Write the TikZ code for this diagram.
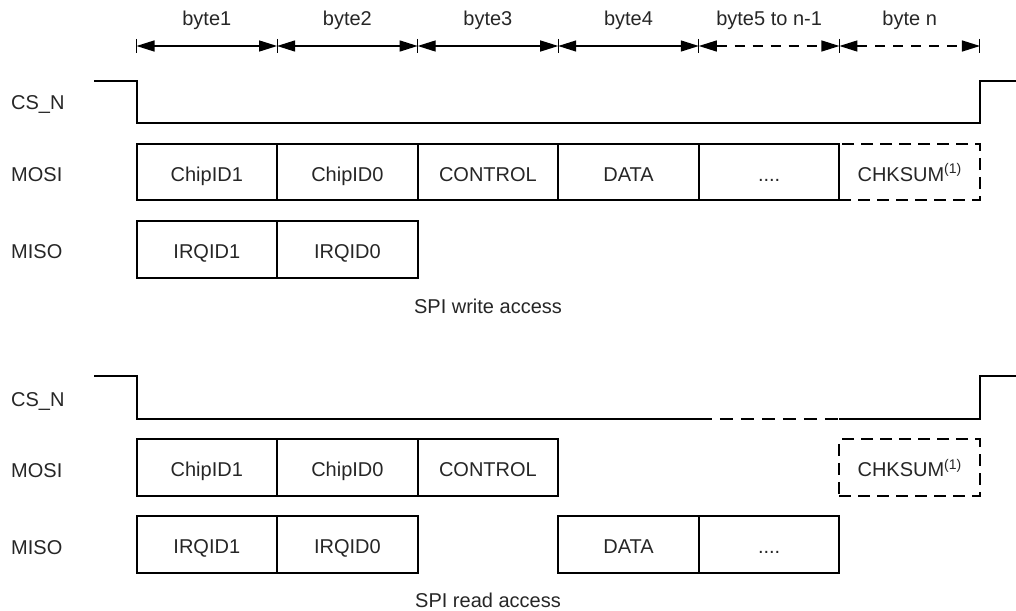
\documentclass[tikz,border=0pt]{standalone}
\usepackage{fontspec}
\setmainfont{Liberation Sans}
\usetikzlibrary{arrows.meta}
\begin{document}
\begin{tikzpicture}[x=1pt,y=-1pt,
  txt/.style={text=black!85, font=\fontsize{20}{22}\selectfont, inner sep=0pt},
  box/.style={draw=black, line width=2pt, minimum width=140.58pt, minimum height=56.5pt,
              text height=18.5pt, text depth=0pt, inner sep=0pt, txt},
  dbox/.style={box, dash pattern=on 12pt off 7pt},
  sig/.style={line width=2pt, line join=miter},
  dsig/.style={line width=2pt, dash pattern=on 13pt off 8pt},
  dim/.style={line width=1.3pt, {Triangle[length=18pt,width=11pt]}-{Triangle[length=18pt,width=11pt]}},
  ddim/.style={dim, dash pattern=on 10pt off 8pt},
  tickmark/.style={line width=1pt},
  lab/.style={txt, anchor=base west},
  ttl/.style={txt, anchor=base}]
\useasboundingbox (0,0) rectangle (1016,610);

% ---- byte ruler ----
\foreach \i/\x in {0/136.5,1/277.08,2/417.66,3/558.24,4/698.82,5/839.4,6/979.98}{
  \coordinate (t\i) at (\x,46);
  \draw[tickmark] ([yshift=7pt]t\i) -- ([yshift=-7pt]t\i);
}
\draw[dim] (t0) -- (t1);
\draw[dim] (t1) -- (t2);
\draw[dim] (t2) -- (t3);
\draw[dim] (t3) -- (t4);
\draw[ddim] (t4) -- (t5);
\draw[ddim] (t5) -- (t6);
\node[ttl] (b1) at (206.8,26) {byte1};
\node[ttl] (b2) at (347.4,26) {byte2};
\node[ttl] (b3) at (487.9,26) {byte3};
\node[ttl] (b4) at (628.5,26) {byte4};
\node[ttl] (b5) at (769.1,26) {byte5 to n-1};
\node[ttl] (b6) at (909.7,26) {byte n};

% ---- SPI write access ----
\node[lab] (wcsl) at (11,109) {CS\_N};
\node[lab] (wmosil) at (11,181) {MOSI};
\node[lab] (wmisol) at (11,258.5) {MISO};

\coordinate (wc0) at (94,80.7);
\coordinate (wc1) at (136.5,80.7);
\coordinate (wc2) at (136.5,123.3);
\coordinate (wc3) at (979.98,123.3);
\coordinate (wc4) at (979.98,80.7);
\coordinate (wc5) at (1016,80.7);
\draw[sig] (wc0) -- (wc1) -- (wc2) -- (wc3) -- (wc4) -- (wc5);

\node[box] (wm1) at (206.8,171.75) {ChipID1};
\node[box] (wm2) at (347.4,171.75) {ChipID0};
\node[box] (wm3) at (487.9,171.75) {CONTROL};
\node[box] (wm4) at (628.5,171.75) {DATA};
\node[box] (wm5) at (769.1,171.75) {....};
\node[dbox] (wm6) at (909.7,171.75) {CHKSUM\textsuperscript{(1)}};

\node[box] (wi1) at (206.8,249.5) {IRQID1};
\node[box] (wi2) at (347.4,249.5) {IRQID0};

\node[ttl] (wttl) at (488,313) {SPI write access};

% ---- SPI read access ----
\node[lab] (rcsl) at (11,406) {CS\_N};
\node[lab] (rmosil) at (11,477.5) {MOSI};
\node[lab] (rmisol) at (11,554) {MISO};

\coordinate (rc0) at (94,376);
\coordinate (rc1) at (136.5,376);
\coordinate (rc2) at (136.5,419);
\coordinate (rc3) at (698.82,419);
\coordinate (rc4) at (839.4,419);
\coordinate (rc5) at (979.98,419);
\coordinate (rc6) at (979.98,376);
\coordinate (rc7) at (1016,376);
\draw[sig] (rc0) -- (rc1) -- (rc2) -- (rc3);
\draw[dsig] (rc3) -- (rc4);
\draw[sig] (rc4) -- (rc5) -- (rc6) -- (rc7);

\node[box] (rm1) at (206.8,467.7) {ChipID1};
\node[box] (rm2) at (347.4,467.7) {ChipID0};
\node[box] (rm3) at (487.9,467.7) {CONTROL};
\node[dbox] (rm6) at (909.7,467.7) {CHKSUM\textsuperscript{(1)}};

\node[box] (ri1) at (206.8,544.7) {IRQID1};
\node[box] (ri2) at (347.4,544.7) {IRQID0};
\node[box] (ri4) at (628.5,544.7) {DATA};
\node[box] (ri5) at (769.1,544.7) {....};

\node[ttl] (rttl) at (488,607) {SPI read access};
\end{tikzpicture}
\end{document}
